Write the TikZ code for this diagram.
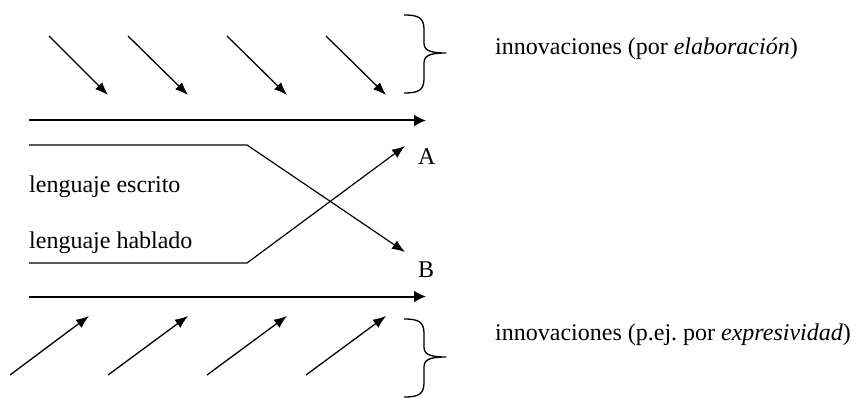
\documentclass[tikz,border=0pt]{standalone}
\usepackage{fontspec}
\setmainfont{Liberation Serif}
\usetikzlibrary{arrows.meta}
\frenchspacing
\begin{document}
\begin{tikzpicture}[x=1pt,y=-1pt,
  thinarrow/.style={line width=1.3pt,-{Latex[length=13pt,width=10pt]}},
  mainarrow/.style={line width=2pt,-{Latex[length=12pt,width=12pt]}},
  pathline/.style={line width=1.2pt,-{Latex[length=13pt,width=10pt]}},
  lbl/.style={anchor=base west,inner sep=0pt,font=\fontsize{24}{28}\selectfont},
  bracestyle/.style={line width=1.3pt},
  pics/curlybrace/.style={code={
    \draw[bracestyle] (0,0) .. controls (13,0) and (20,2) .. (20,14) -- (20,28)
      .. controls (20,35) and (25,38) .. (42,38)
      .. controls (25,38) and (20,41) .. (20,48) -- (20,64)
      .. controls (20,76) and (13,78) .. (0,78);}}
]
\useasboundingbox (0,0) rectangle (857,398);

% small top arrows
\foreach \i/\sx/\ex in {1/49/108, 2/128/188, 3/227/287, 4/326/386}{
  \coordinate (ts\i) at (\sx,36);
  \coordinate (te\i) at (\ex,95);
  \draw[thinarrow] (ts\i) -- (te\i);
}
% small bottom arrows
\foreach \i/\sx/\ex in {1/10/89, 2/108/188, 3/207/287, 4/306/386}{
  \coordinate (bs\i) at (\sx,375);
  \coordinate (be\i) at (\ex,316);
  \draw[thinarrow] (bs\i) -- (be\i);
}

% main arrows
\coordinate (m1s) at (29,120.5);
\coordinate (m1e) at (426,120.5);
\coordinate (m2s) at (29,296.5);
\coordinate (m2e) at (426,296.5);
\draw[mainarrow] (m1s) -- (m1e);
\draw[mainarrow] (m2s) -- (m2e);

% labels
\node[lbl] (esc) at (29,193) {lenguaje escrito};
\node[lbl] (hab) at (29,249) {lenguaje hablado};
\node[lbl] (A) at (418,165) {A};
\node[lbl] (B) at (418,277) {B};

% escrito / hablado lines
\coordinate (es) at (29,145);
\coordinate (ec) at (247,145);
\coordinate (ee) at (405,252);
\coordinate (hs) at (29,263);
\coordinate (hc) at (247,263);
\coordinate (he) at (405,146);
\draw[pathline] (es) -- (ec) -- (ee);
\draw[pathline] (hs) -- (hc) -- (he);

% braces
\pic at (404,15) {curlybrace};
\pic at (404,319) {curlybrace};

\node[lbl] (inn1) at (495,55) {innovaciones (por \textit{elaboración})};
\node[lbl] (inn2) at (495,340) {innovaciones (p.ej. por \textit{expresividad})};
\end{tikzpicture}
\end{document}
